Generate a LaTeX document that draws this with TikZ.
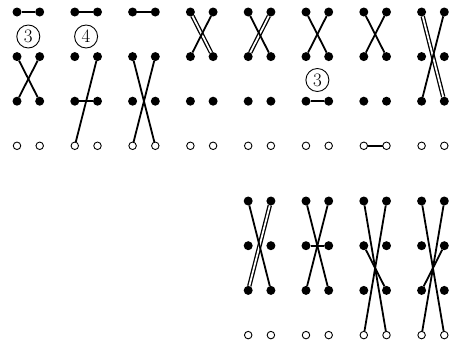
\documentclass[tikz,border=0pt]{standalone}
\usetikzlibrary{backgrounds}
\begin{document}
\begin{tikzpicture}[x=1pt,y=-1pt,
  fdot/.style={circle,fill=black,minimum size=9pt,inner sep=0pt,outer sep=0pt},
  odot/.style={circle,draw=black,fill=white,line width=0.9pt,minimum size=7.5pt,inner sep=0pt,outer sep=0pt},
  link/.style={line width=1.8pt},
  dlink/.style={line width=1.3pt,double=white,double distance=1.8pt},
  lab/.style={circle,draw,line width=0.9pt,minimum size=23pt,inner sep=0pt,font=\fontsize{19}{19}\selectfont}]
\useasboundingbox (0,0) rectangle (458,348);
% top block of eight panels
\foreach \i in {1,...,8}{
  \pgfmathsetmacro\xl{17+57.8*(\i-1)}
  \pgfmathsetmacro\xr{\xl+22.7}
  \foreach \r/\y in {1/12,2/56.6,3/101.2}{
    \node[fdot] (t\i\r L) at (\xl,\y) {};
    \node[fdot] (t\i\r R) at (\xr,\y) {};
  }
  \node[odot] (t\i4L) at (\xl,145.8) {};
  \node[odot] (t\i4R) at (\xr,145.8) {};
}
% bottom block of four panels
\foreach \i in {5,...,8}{
  \pgfmathsetmacro\xl{17+57.8*(\i-1)}
  \pgfmathsetmacro\xr{\xl+22.7}
  \foreach \r/\y in {1/201,2/245.7,3/290.4}{
    \node[fdot] (b\i\r L) at (\xl,\y) {};
    \node[fdot] (b\i\r R) at (\xr,\y) {};
  }
  \node[odot] (b\i4L) at (\xl,335.1) {};
  \node[odot] (b\i4R) at (\xr,335.1) {};
}
% labels
\node[lab] (l1) at (28.3,36.5) {3};
\node[lab] (l2) at (86.1,36.5) {4};
\node[lab] (l3) at (317.4,80) {3};
\begin{scope}[on background layer]
  % double lines first
  \draw[dlink] (t41L) -- (t42R);
  \draw[dlink] (t51R) -- (t52L);
  \draw[dlink] (t81L) -- (t83R);
  \draw[dlink] (b51R) -- (b53L);
  % single lines
  \draw[link] (t11L) -- (t11R);
  \draw[link] (t12L) -- (t13R);
  \draw[link] (t12R) -- (t13L);
  \draw[link] (t21L) -- (t21R);
  \draw[link] (t22R) -- (t24L);
  \draw[link] (t23L) -- (t23R);
  \draw[link] (t31L) -- (t31R);
  \draw[link] (t32L) -- (t34R);
  \draw[link] (t32R) -- (t34L);
  \draw[link] (t41R) -- (t42L);
  \draw[link] (t51L) -- (t52R);
  \draw[link] (t61L) -- (t62R);
  \draw[link] (t61R) -- (t62L);
  \draw[link] (t63L) -- (t63R);
  \draw[link] (t71L) -- (t72R);
  \draw[link] (t71R) -- (t72L);
  \draw[link] (t74L) -- (t74R);
  \draw[link] (t81R) -- (t83L);
  \draw[link] (b51L) -- (b53R);
  \draw[link] (b61L) -- (b63R);
  \draw[link] (b61R) -- (b63L);
  \draw[link] (b62L) -- (b62R);
  \draw[link] (b71L) -- (b74R);
  \draw[link] (b71R) -- (b74L);
  \draw[link] (b72L) -- (b73R);
  \draw[link] (b81L) -- (b84R);
  \draw[link] (b81R) -- (b84L);
  \draw[link] (b82R) -- (b83L);
\end{scope}
\end{tikzpicture}
\end{document}
